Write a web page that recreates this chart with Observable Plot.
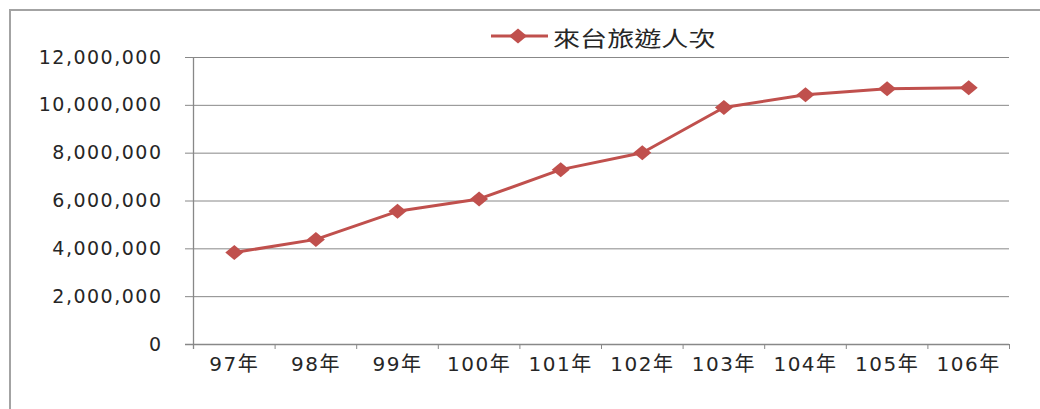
<!DOCTYPE html>
<html>
<head>
<meta charset="utf-8">
<script src="https://cdn.jsdelivr.net/npm/d3@7"></script>
<script src="https://cdn.jsdelivr.net/npm/@observablehq/plot@0.6"></script>
<style>
  html, body { margin: 0; padding: 0; background: #fff; overflow: hidden; }
  #wrap { position: relative; width: 1040px; height: 409px; overflow: hidden; }
  #frame { position: absolute; left: 9px; top: 9px; width: 1200px; height: 600px; border: 2px solid #a3a3a3; box-sizing: border-box; }
  #chart { position: absolute; left: 0; top: 0; }
  #legend-icon { position: absolute; left: 491px; top: 28px; }
  #legend-text { position: absolute; left: 553px; top: 26px; font-family: "Noto Sans CJK TC", "DejaVu Sans", sans-serif; font-size: 21px; line-height: 22px; color: #262626; transform: scaleX(1.29); transform-origin: left center; white-space: nowrap; }
</style>
</head>
<body>
<div id="wrap">
  <div id="frame"></div>
  <div id="chart"></div>
  <svg id="legend-icon" width="58" height="16"></svg>
  <div id="legend-text"></div>
</div>
<script>
// Data
const years = ["97年", "98年", "99年", "100年", "101年", "102年", "103年", "104年", "105年", "106年"];
const visitors = [3845187, 4395004, 5567277, 6087484, 7311470, 8016280, 9910204, 10439785, 10690279, 10739601];
const yTicks = [0, 2000000, 4000000, 6000000, 8000000, 10000000, 12000000];
const seriesName = "來台旅遊人次";

const red = "#C0504D";
const axisGray = "#888888";

// wide diamond marker
const diamond = {
  draw(context) {
    const w = 9, h = 7.5;
    context.moveTo(-w, 0);
    context.lineTo(0, -h);
    context.lineTo(w, 0);
    context.lineTo(0, h);
    context.closePath();
  }
};

const rows = visitors.map((v, i) => ({pos: i + 0.5, value: v, year: years[i]}));
const bounds = d3.range(years.length + 1);

const chart = Plot.plot({
  width: 1040,
  height: 409,
  marginLeft: 193,
  marginRight: 31,
  marginTop: 57,
  marginBottom: 65,
  style: {fontFamily: "'DejaVu Sans', 'Noto Sans CJK TC', sans-serif", fontSize: "19px", color: "#262626", letterSpacing: "1.5px", background: "transparent"},
  x: {type: "linear", domain: [0, years.length]},
  y: {domain: [0, 12000000]},
  marks: [
    Plot.gridY(yTicks, {stroke: axisGray, strokeOpacity: 1, strokeWidth: 1}),
    Plot.ruleY([0], {stroke: axisGray, strokeWidth: 1.3, insetLeft: -8}),
    Plot.ruleX([0], {stroke: axisGray, strokeWidth: 1.3, insetBottom: -5}),
    Plot.axisY(yTicks, {label: null, tickSize: 8, tickPadding: 23, tickFormat: d3.format(","), stroke: axisGray, strokeOpacity: 1, fill: "#262626"}),
    Plot.axisX(bounds, {label: null, tickSize: 5, tickFormat: () => "", stroke: axisGray, strokeOpacity: 1}),
    Plot.axisX(rows.map(d => d.pos), {label: null, tickSize: 0, tickPadding: 12, tickFormat: (d) => years[Math.floor(d)], fill: "#262626", fontSize: 20, style: {letterSpacing: "2.2px"}}),
    Plot.line(rows, {x: "pos", y: "value", stroke: red, strokeWidth: 3}),
    Plot.dot(rows, {x: "pos", y: "value", symbol: diamond, r: 8, fill: red, stroke: "none"})
  ]
});
document.getElementById("chart").appendChild(chart);

// Legend
const icon = d3.select("#legend-icon");
icon.append("line").attr("x1", 0).attr("x2", 57).attr("y1", 8).attr("y2", 8).attr("stroke", red).attr("stroke-width", 3);
icon.append("path").attr("transform", "translate(27,8)").attr("d", "M-9,0L0,-7.5L9,0L0,7.5Z").attr("fill", red);
document.getElementById("legend-text").textContent = seriesName;
</script>
</body>
</html>
